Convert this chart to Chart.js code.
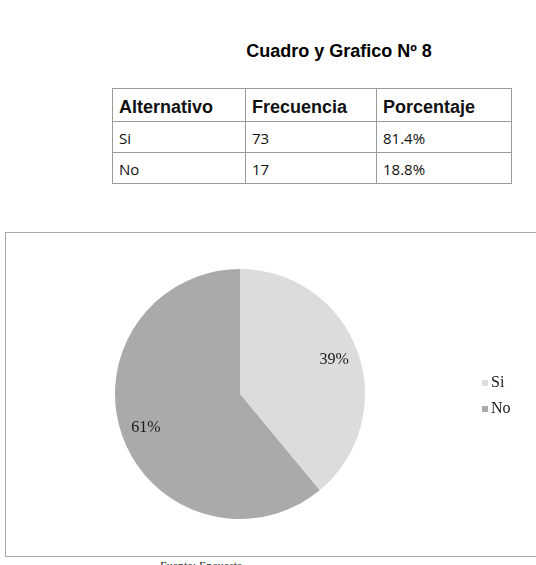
<!DOCTYPE html>
<html>
<head>
<meta charset="utf-8">
<script src="https://cdn.jsdelivr.net/npm/chart.js"></script>
<style>
  html, body { margin: 0; padding: 0; background: #fff; overflow: hidden; }
  body { width: 536px; height: 565px; position: relative; }
  #title {
    position: absolute; left: 0; width: 536px; top: 41px; padding-left: 142px; box-sizing: border-box;
    text-align: center; font: bold 18px "Liberation Sans", Arial, sans-serif; color: #000;
  }
  table {
    position: absolute; left: 112px; top: 88px; border-collapse: collapse;
    font-family: "Open Sans", sans-serif; font-size: 15px; color: #111;
  }
  td, th { border: 1px solid #9a9a9a; padding: 0 6px; text-align: left; }
  th { font: bold 18px "Liberation Sans", Arial, sans-serif; height: 28px; padding-top: 4px; vertical-align: middle; }
  td { height: 29px; vertical-align: middle; padding-top: 1px; }
  #box {
    position: absolute; left: 5px; top: 232px; width: 540px; height: 323px;
    border: 1px solid #a8a8a8;
  }
  #chart { position: absolute; left: 0; top: 0; }
  #source {
    position: absolute; left: 160px; top: 559px; font: 12px "Liberation Serif", serif; color: #333;
  }
</style>
</head>
<body>
<div id="title">Cuadro y Grafico Nº 8</div>
<table id="tbl"></table>
<div id="box"><canvas id="chart" width="540" height="323"></canvas></div>
<div id="source">Fuente: Encuesta</div>
<script>
(function () {
    // Table data
    const tableHeaders = ['Alternativo', 'Frecuencia', 'Porcentaje'];
    const alternativas = ['Si', 'No'];
    const frecuencias = [73, 17];
    const porcentajes = ['81.4%', '18.8%'];

    // Pie data
    const pieLabels = ['Si', 'No'];
    const pieValues = [39, 61];
    const pieColors = ['#dcdcdc', '#aaaaaa'];

    const colWidths = [133, 131, 135];

    // Build table
    const tbl = document.getElementById('tbl');
    let html = '<tr>';
    tableHeaders.forEach((h, i) => {
        html += '<th style="width:' + (colWidths[i] - 13) + 'px">' + h + '</th>';
    });
    html += '</tr>';
    alternativas.forEach((a, i) => {
        html += '<tr><td>' + a + '</td><td>' + frecuencias[i] + '</td><td>' + porcentajes[i] + '</td></tr>';
    });
    tbl.innerHTML = html;

    // Percent labels + legend
    const labelPlugin = {
        id: 'pieLabels',
        afterDatasetsDraw(chart) {
            const ctx = chart.ctx;
            const meta = chart.getDatasetMeta(0);
            const total = pieValues.reduce((s, v) => s + v, 0);
            ctx.save();
            ctx.font = '16px "Liberation Serif", "Times New Roman", serif';
            ctx.fillStyle = '#1a1a1a';
            ctx.textAlign = 'center';
            ctx.textBaseline = 'middle';
            meta.data.forEach((arc, i) => {
                const p = arc.getProps(['x', 'y', 'startAngle', 'endAngle', 'outerRadius']);
                const mid = (p.startAngle + p.endAngle) / 2;
                const r = p.outerRadius * 0.8;
                const pct = Math.round(pieValues[i] / total * 100) + '%';
                ctx.fillText(pct, p.x + Math.cos(mid) * r, p.y + Math.sin(mid) * r);
            });

            // legend
            ctx.textAlign = 'left';
            pieLabels.forEach((lab, i) => {
                const y = 150 + i * 26;
                ctx.fillStyle = pieColors[i];
                ctx.fillRect(476, y - 3, 6, 6);
                ctx.fillStyle = '#1a1a1a';
                ctx.fillText(lab, 485, y);
            });
            ctx.restore();
        }
    };

    new Chart(document.getElementById('chart'), {
        type: 'pie',
        data: {
            labels: pieLabels,
            datasets: [{
                data: pieValues,
                backgroundColor: pieColors,
                borderWidth: 0
            }]
        },
        options: {
            responsive: false,
            animation: false,
            layout: { padding: { left: 109, right: 181, top: 36, bottom: 37 } },
            plugins: {
                legend: { display: false },
                tooltip: { enabled: false }
            }
        },
        plugins: [labelPlugin]
    });
})();
</script>
</body>
</html>
